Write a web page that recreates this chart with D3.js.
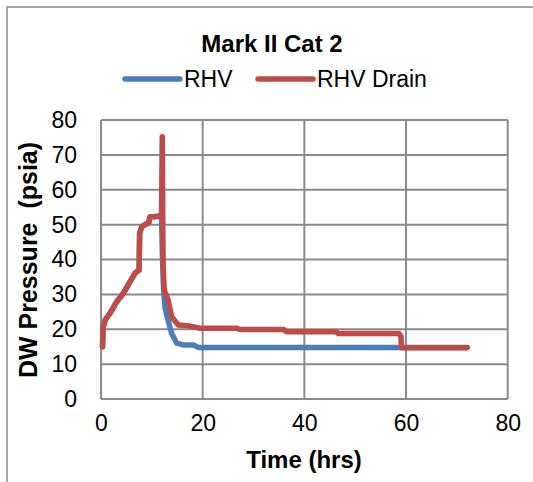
<!DOCTYPE html>
<html><head><meta charset="utf-8">
<script src="https://cdn.jsdelivr.net/npm/d3@7"></script>
<style>body{margin:0;background:#fff}svg{display:block}</style>
</head><body>
<script>
const title = "Mark II Cat 2";
const xTitle = "Time (hrs)";
const yTitle = "DW Pressure  (psia)";
const seriesNames = ["RHV", "RHV Drain"];
const xTicks = [0, 20, 40, 60, 80];
const yTicks = [0, 10, 20, 30, 40, 50, 60, 70, 80];

const timeRHV = [0.3, 0.4, 0.8, 1.8, 3.1, 4.4, 5.7, 6.7, 7.5, 7.6, 8.0, 9.0, 9.4, 9.6, 11.9, 12.1, 12.3, 12.6, 13.2, 13.9, 14.9, 16.2, 18.2, 19.1, 72.0];
const pressRHV = [15.0, 20.5, 22.6, 24.6, 27.9, 30.3, 33.6, 36.1, 37.0, 47.5, 49.4, 50.3, 50.6, 52.2, 52.5, 40.0, 32.0, 26.1, 22.6, 18.8, 16.0, 15.5, 15.5, 14.8, 14.8];

const timeDrain = [0.3, 0.4, 0.8, 1.8, 3.1, 4.4, 5.7, 6.7, 7.5, 7.6, 8.0, 9.0, 9.4, 9.6, 11.9, 12.05, 12.2, 12.4, 12.6, 13.2, 13.9, 15.2, 17.5, 19.5, 26.7, 27.3, 36.0, 36.4, 46.3, 46.6, 58.6, 59.0, 59.1, 72.0];
const pressDrain = [15.0, 20.5, 22.6, 24.6, 27.9, 30.3, 33.6, 36.1, 37.0, 47.5, 49.4, 50.3, 50.6, 52.2, 52.5, 75.2, 40.0, 32.0, 30.5, 28.4, 23.6, 21.2, 20.9, 20.3, 20.3, 19.9, 19.9, 19.3, 19.3, 18.8, 18.8, 18.0, 14.7, 14.7];

const colors = ["#4A7EBB", "#BE4B48"];
const W = 533, H = 482;
const svg = d3.select("body").append("svg").attr("width", W).attr("height", H);
const font = "'Liberation Sans', Arial, sans-serif";
const grey = "#8a8a8a";

// outer chart frame
svg.append("rect").attr("x", 7).attr("y", 7).attr("width", 560).attr("height", 520)
  .attr("fill", "none").attr("stroke", grey).attr("stroke-width", 1.5);

const x = d3.scaleLinear().domain([0, 80]).range([101, 507.7]);
const y = d3.scaleLinear().domain([0, 80]).range([399, 120]);

// grid
const g = svg.append("g");
g.selectAll(".gy").data(yTicks).join("line")
  .attr("x1", x(0)).attr("x2", x(80)).attr("y1", d => y(d)).attr("y2", d => y(d))
  .attr("stroke", grey).attr("stroke-width", 2);
g.selectAll(".gx").data(xTicks).join("line")
  .attr("y1", y(0)).attr("y2", y(80)).attr("x1", d => x(d)).attr("x2", d => x(d))
  .attr("stroke", grey).attr("stroke-width", 2);

// axes labels via d3 axes
const yAxis = svg.append("g").attr("transform", `translate(${x(0)},0)`)
  .call(d3.axisLeft(y).tickValues(yTicks).tickSize(0).tickPadding(24));
yAxis.select(".domain").remove();
yAxis.selectAll("text").attr("font-family", font).attr("font-size", 23).attr("fill", "#000");

const xAxis = svg.append("g").attr("transform", `translate(0,${y(0)})`)
  .call(d3.axisBottom(x).tickValues(xTicks).tickSize(0).tickPadding(16));
xAxis.select(".domain").remove();
xAxis.selectAll("text").attr("font-family", font).attr("font-size", 23).attr("fill", "#000");

// lines
const line = d3.line().x(d => x(d[0])).y(d => y(d[1]));
const series = [
  d3.zip(timeRHV, pressRHV),
  d3.zip(timeDrain, pressDrain)
];
series.forEach((s, i) => {
  svg.append("path").datum(s).attr("d", line)
    .attr("fill", "none").attr("stroke", colors[i]).attr("stroke-width", 5.5)
    .attr("stroke-linejoin", "round").attr("stroke-linecap", "round");
});

// title
svg.append("text").attr("x", 272).attr("y", 52).attr("text-anchor", "middle")
  .attr("font-family", font).attr("font-size", 24).attr("font-weight", "bold").text(title);

// legend
const legX = [125, 258];
seriesNames.forEach((n, i) => {
  svg.append("line").attr("x1", legX[i]).attr("x2", legX[i] + 55).attr("y1", 79).attr("y2", 79)
    .attr("stroke", colors[i]).attr("stroke-width", 5.5).attr("stroke-linecap", "round");
  svg.append("text").attr("x", legX[i] + 59).attr("y", 87)
    .attr("font-family", font).attr("font-size", 23).text(n);
});

// axis titles
svg.append("text").attr("x", 304).attr("y", 468).attr("text-anchor", "middle")
  .attr("font-family", font).attr("font-size", 24).attr("font-weight", "bold").text(xTitle);
svg.append("text").attr("transform", "translate(37,260) rotate(-90)").attr("text-anchor", "middle")
  .style("white-space", "pre")
  .attr("font-family", font).attr("font-size", 25).attr("font-weight", "bold").text(yTitle);
</script>
</body></html>
